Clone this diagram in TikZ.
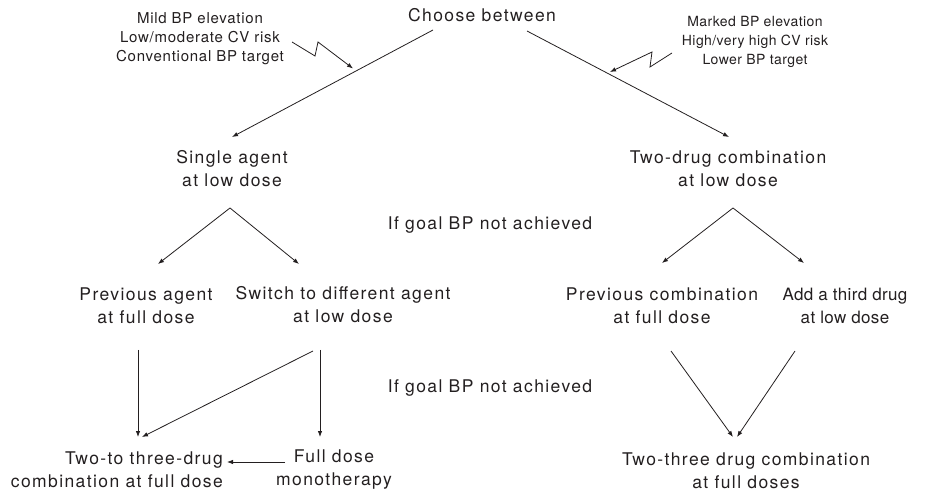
\documentclass[tikz,border=0pt]{standalone}
\usepackage{fontspec}
\setmainfont{TeX Gyre Heros}[LetterSpace=8]
\newfontfamily\annfont{TeX Gyre Heros}[LetterSpace=5]
\newfontfamily\annfontR{TeX Gyre Heros}[LetterSpace=3]
\newfontfamily\tightfont{TeX Gyre Heros}[LetterSpace=2]
\usetikzlibrary{arrows.meta}
\definecolor{ink}{HTML}{231F20}
\begin{document}
\begin{tikzpicture}[x=1pt,y=-1pt,
  every node/.style={inner sep=0pt,text=ink},
  lbl/.style={align=center,font=\fontsize{17.5}{23}\selectfont},
  ann/.style={align=center,font=\annfont\fontsize{15}{19}\selectfont},
  annr/.style={align=center,font=\annfontR\fontsize{14}{19}\selectfont},
  conn/.style={draw=ink,line width=0.8pt},
  arr/.style={conn,-{Latex[length=6pt,width=4.5pt]}}]
\useasboundingbox (0,0) rectangle (932,494);
% nodes
\node[lbl] (choose) at (482,15) {Choose between};
\node[ann] (annL) at (200,38.5) {Mild BP elevation\\Low/moderate CV risk\\Conventional BP target};
\node[annr] (annR) at (755,42) {Marked BP elevation\\High/very high CV risk\\Lower BP target};
\node[lbl] (single) at (232,169) {Single agent\\at low dose};
\node[lbl] (twodrug) at (728,169) {Two-drug combination\\at low dose};
\node[lbl] (goalA) at (490,225) {If goal BP not achieved};
\node[lbl] (prevag) at (146,306) {Previous agent\\at full dose};
\node[lbl] (switch) at (343,305) {Switch to different agent\\at low dose};
\node[lbl] (prevcomb) at (662,306) {Previous combination\\at full dose};
\node[lbl,font=\tightfont\fontsize{17}{23}\selectfont] (third) at (845,306) {Add a third drug\\at low dose};
\node[lbl] (goalB) at (490,388) {If goal BP not achieved};
\node[lbl,align=right,anchor=east] (twothree) at (223,470) {Two-to three-drug\\combination at full dose};
\node[lbl] (fulldose) at (334,470) {Full dose\\monotherapy};
\node[lbl] (final) at (746,471) {Two-three drug combination\\at full doses};
% main branches
\draw[arr] ([xshift=-49pt,yshift=-15pt]choose.center) -- ([xshift=0pt,yshift=32pt]single.center);
\draw[arr] ([xshift=45pt,yshift=-16pt]choose.center) -- ([xshift=1pt,yshift=32pt]twodrug.center);
% zigzag annotation arrows
\draw[arr] ([xshift=92pt,yshift=-3.5pt]annL.center) -- ++(23,14) -- ++(3,-14) -- ++(35,26.5);
\draw[arr] ([xshift=-83pt,yshift=-11pt]annR.center) -- ++(-22,14) -- ++(2,-15) -- ++(-42,20);
% left V
\coordinate (apexL) at ([xshift=-2pt,yshift=-39pt]single.center);
\draw[arr] (apexL) -- ([xshift=12pt,yshift=42pt]prevag.center);
\draw[arr] (apexL) -- ([xshift=-44pt,yshift=41pt]switch.center);
% right V
\coordinate (apexR) at ([xshift=5pt,yshift=-39pt]twodrug.center);
\draw[arr] (apexR) -- ([xshift=0pt,yshift=43pt]prevcomb.center);
\draw[arr] (apexR) -- ([xshift=-41pt,yshift=43pt]third.center);
% lower left
\draw[arr] ([xshift=-8pt,yshift=-44pt]prevag.center) -- ([xshift=-85pt,yshift=33pt]twothree.east);
\draw[arr] ([xshift=-30pt,yshift=-46pt]switch.center) -- ([xshift=-81pt,yshift=33pt]twothree.east);
\draw[arr] ([xshift=-23pt,yshift=-45pt]switch.center) -- ([xshift=-14pt,yshift=33pt]fulldose.center);
\draw[arr] ([xshift=-49pt,yshift=8pt]fulldose.center) -- ([xshift=4pt,yshift=8pt]twothree.east);
% lower right
\draw[arr] ([xshift=9pt,yshift=-45pt]prevcomb.center) -- ([xshift=-13pt,yshift=34pt]final.center);
\draw[arr] ([xshift=-50pt,yshift=-45pt]third.center) -- ([xshift=-9pt,yshift=34pt]final.center);
\end{tikzpicture}
\end{document}
